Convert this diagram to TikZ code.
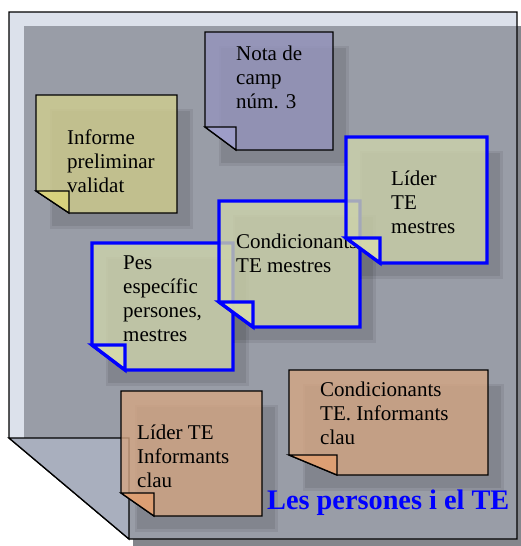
\documentclass[tikz,border=0pt]{standalone}
\usepackage{fontspec}
\setmainfont{Liberation Serif}
\definecolor{pagelight}{HTML}{DCE1EB}
\definecolor{pagegray}{HTML}{999DA7}
\definecolor{flapgray}{HTML}{A9AFBE}
\definecolor{pageshadow}{HTML}{84868C}
\definecolor{noteolive}{HTML}{D1CE8F}
\definecolor{olivefl}{HTML}{DDD57B}
\definecolor{notepurple}{HTML}{9594BD}
\definecolor{purplefl}{HTML}{A0A0CC}
\definecolor{notegreen}{HTML}{CDD3AB}
\definecolor{greenfl}{HTML}{D8DCAC}
\definecolor{notesalmon}{HTML}{D4A683}
\definecolor{salmonfl}{HTML}{E2A070}
\newcommand\stickynote[9]{%
  \fill[black,opacity=.07] ({#1+14},{#2+14}) rectangle ({#3+16},{#4+16});
  \fill[black,opacity=.08] ({#1+16},{#2+16}) rectangle ({#3+13},{#4+13});
  \filldraw[fill=#7,fill opacity=.8,#9] (#1,#2) -- (#3,#2) -- (#3,#4) -- (#5,#4) -- (#1,#6) -- cycle;
  \filldraw[fill=#8,fill opacity=.85,#9] (#1,#6) -- (#5,#6) -- (#5,#4) -- cycle;
}
\begin{document}
\begin{tikzpicture}[x=1pt,y=-1pt,
  blackedge/.style={draw=black,line width=1.3pt,line join=miter},
  blueedge/.style={draw=blue,line width=3.3pt,line join=miter},
  notetext/.style={font=\fontsize{21}{24}\selectfont,align=left,anchor=base west,inner sep=0pt,text=black},
  titletext/.style={font=\fontsize{28.3}{30}\selectfont\bfseries,anchor=base west,inner sep=0pt,text=blue}]
\useasboundingbox (0,0) rectangle (520,546);
\fill[white] (0,0) rectangle (520,546);
% page shadow
\fill[pageshadow] (517,26) -- (531,26) -- (531,553) -- (133,553) -- (133,539) -- (517,539) -- cycle;
% page
\fill[pagelight] (9,12) -- (517,12) -- (517,539) -- (129,539) -- (9,438) -- cycle;
\begin{scope}
  \clip (9,12) -- (517,12) -- (517,539) -- (129,539) -- (9,438) -- cycle;
  \fill[pagegray] (24,26) rectangle (517,539);
\end{scope}
\draw[blackedge] (9,12) -- (517,12) -- (517,539) -- (129,539) -- (9,438) -- cycle;
\filldraw[fill=flapgray,blackedge] (9,438) -- (129,438) -- (129,539) -- cycle;
% notes (text nodes anchored at the baseline of their last line)
\stickynote{205}{32}{333}{150}{236}{127}{notepurple}{purplefl}{blackedge}
\node[notetext] (n1) at (236,108) {Nota de\\camp\\núm. 3};
\stickynote{36}{95}{177}{213}{69}{191}{noteolive}{olivefl}{blackedge}
\node[notetext] (n2) at (67,192) {Informe\\preliminar\\validat};
\stickynote{92}{243}{233}{370}{125}{345}{notegreen}{greenfl}{blueedge}
\node[notetext] (n5) at (123,341) {Pes\\específic\\persones,\\mestres};
\stickynote{219}{201}{360}{327}{253}{302}{notegreen}{greenfl}{blueedge}
\node[notetext] (n4) at (236,272) {Condicionants\\TE mestres};
\stickynote{346}{137}{487}{263}{380}{238}{notegreen}{greenfl}{blueedge}
\node[notetext] (n3) at (391,233) {Líder\\TE\\mestres};
\stickynote{121}{391}{262}{516}{154}{493}{notesalmon}{salmonfl}{blackedge}
\node[notetext] (n6) at (137,487) {Líder TE\\Informants\\clau};
\stickynote{289}{370}{488}{475}{337}{455}{notesalmon}{salmonfl}{blackedge}
\node[notetext] (n7) at (320,444) {Condicionants\\TE. Informants\\clau};
\node[titletext] (title) at (267,509) {Les persones i el TE};
\end{tikzpicture}
\end{document}
